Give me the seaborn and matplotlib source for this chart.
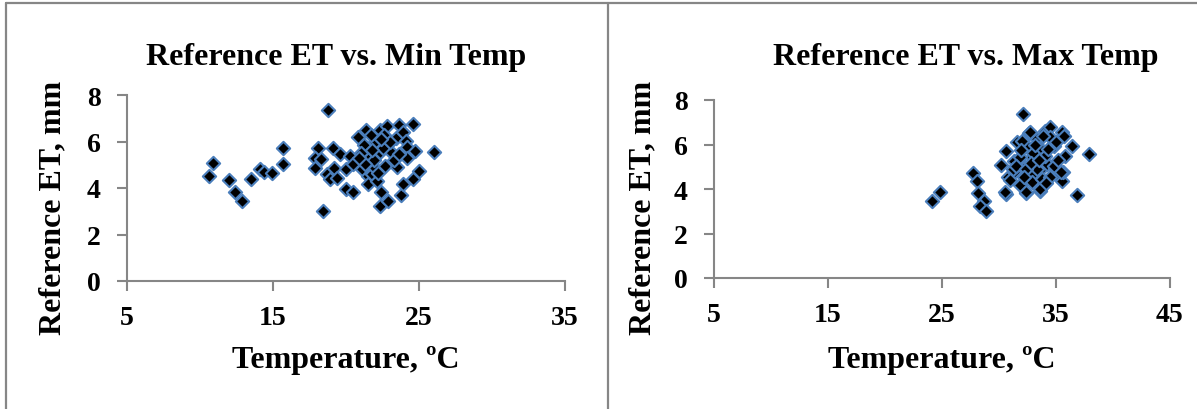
import matplotlib
matplotlib.use("Agg")
import matplotlib.pyplot as plt
from matplotlib.lines import Line2D
import seaborn as sns
import pandas as pd

# ---- data ----
tmin = [10.6, 10.9, 12.0, 12.4, 12.9, 13.5, 14.1, 14.4, 14.9, 15.7, 15.7,
        18.8, 18.4, 18.1, 17.9, 17.9, 18.3, 18.7, 18.9, 19.1, 19.2, 19.4, 19.6,
        20.0, 20.5, 20.3, 20.0, 20.5, 20.8, 21.1, 21.2, 21.4, 21.5, 21.5, 21.5,
        21.8, 22.0, 22.0, 22.1, 22.3, 22.3, 22.4, 22.3, 22.7, 22.8, 22.9, 22.9,
        23.1, 23.4, 23.5, 23.6, 23.8, 23.9, 23.9, 24.1, 24.2, 24.2, 24.6, 24.6,
        24.7, 25.0, 26.0, 21.7, 22.6, 21.0, 21.9, 22.5, 23.3, 21.3, 20.9, 22.2,
        23.0, 21.8, 23.6, 22.4]
et_min = [4.53, 5.07, 4.34, 3.84, 3.46, 4.39, 4.81, 4.67, 4.64, 5.70, 5.03,
          7.37, 3.02, 5.71, 5.27, 4.85, 5.25, 4.60, 4.39, 5.72, 4.85, 4.42, 5.46,
          3.96, 3.81, 5.39, 4.81, 5.03, 6.18, 4.82, 5.85, 6.51, 5.25, 4.53, 4.17,
          4.60, 5.99, 4.85, 4.31, 6.51, 5.53, 3.81, 3.24, 4.96, 6.65, 5.89, 3.45,
          5.53, 6.17, 4.89, 6.71, 3.70, 6.40, 4.17, 6.03, 5.75, 5.31, 6.75, 4.39,
          5.60, 4.74, 5.53, 6.30, 6.30, 5.50, 5.20, 5.70, 5.20, 5.05, 5.30, 4.65,
          6.00, 5.65, 5.45, 6.10]

tmax = [24.1, 24.8, 27.7, 28.1, 28.2, 28.7, 28.3, 28.9, 30.6, 30.2, 30.6,
        30.8, 31.3, 31.3, 31.6, 31.8, 32.1, 32.4, 32.6, 32.5, 32.9, 33.0, 32.9,
        33.3, 33.6, 33.6, 33.7, 33.8, 34.0, 34.2, 34.5, 34.5, 34.8, 34.9, 35.2,
        35.5, 35.5, 35.6, 35.8, 36.4, 36.8, 37.9, 32.0, 31.8, 31.2, 32.3, 33.3,
        34.8, 35.4, 34.0, 33.6, 32.4, 30.5, 32.7, 31.5, 32.4, 33.0, 34.3, 33.9,
        35.0, 32.8, 34.5, 31.0, 33.2, 35.2, 31.9, 34.1, 32.2, 33.5, 35.7]
et_max = [3.48, 3.86, 4.71, 4.38, 3.83, 3.48, 3.23, 2.99, 3.78, 5.08, 5.70,
          4.54, 4.78, 5.28, 6.10, 4.16, 7.37, 3.80, 6.52, 5.89, 5.42, 4.68, 4.31,
          6.25, 5.84, 3.89, 4.90, 4.45, 6.62, 5.13, 6.77, 6.34, 5.95, 4.93, 4.60,
          6.56, 4.37, 4.75, 5.50, 5.95, 3.71, 5.58, 6.17, 5.42, 4.90, 4.98, 4.90,
          5.05, 4.76, 5.50, 4.00, 3.86, 3.86, 6.56, 5.05, 4.90, 5.60, 5.80, 6.40,
          6.10, 5.15, 4.55, 4.40, 6.00, 5.30, 5.75, 4.25, 4.55, 5.30, 6.40]

titles = ["Reference ET vs. Min Temp", "Reference ET vs. Max Temp"]
xticks_min = [5, 15, 25, 35]
xticks_max = [5, 15, 25, 35, 45]
yticks = [0, 2, 4, 6, 8]
xlabel = "Temperature, \u00baC"
ylabel = "Reference ET, mm"

df_min = pd.DataFrame({"T": tmin, "ET": et_min})
df_max = pd.DataFrame({"T": tmax, "ET": et_max})

sns.set_theme(style="white")
plt.rcParams["font.family"] = ["Liberation Serif", "DejaVu Serif"]
plt.rcParams["font.weight"] = "bold"
plt.rcParams["text.color"] = "black"
plt.rcParams["axes.labelcolor"] = "black"

W, H = 1197, 410
fig = plt.figure(figsize=(W / 100, H / 100), dpi=100)

gray = "#868686"
edge = "#4A7EBB"


def px_axes(l, r, b, t):
    return fig.add_axes([l / W, (H - b) / H, (r - l) / W, (b - t) / H])


panels = [
    (px_axes(127, 565, 282, 96), df_min, xticks_min, titles[0], 336,
     (-0.137, 0.40), -0.345),
    (px_axes(714, 1170, 279, 101), df_max, xticks_max, titles[1], 966,
     (-0.125, 0.40), -0.375),
]

for ax, df, xt, title, tx, ylc, xly in panels:
    sns.scatterplot(data=df, x="T", y="ET", ax=ax, marker="D", s=46,
                    color="black", edgecolor=edge, linewidth=1.5, zorder=3)
    ax.set_xlim(xt[0], xt[-1])
    ax.set_ylim(0, 8)
    ax.set_xticks(xt)
    ax.set_yticks(yticks)
    for s in ["top", "right"]:
        ax.spines[s].set_visible(False)
    for s in ["left", "bottom"]:
        ax.spines[s].set_color(gray)
        ax.spines[s].set_linewidth(1.5)
    ax.tick_params(axis="both", direction="out", length=7, width=1.5,
                   color=gray, labelsize=20, labelcolor="black")
    ax.tick_params(axis="x", pad=10)
    ax.tick_params(axis="y", pad=12)
    ax.tick_params(left=True, bottom=True)
    for lab in ax.get_xticklabels() + ax.get_yticklabels():
        lab.set_fontweight("bold")
    ax.set_xlabel(xlabel, fontsize=23, fontweight="bold")
    ax.set_ylabel(ylabel, fontsize=23, fontweight="bold")
    ax.yaxis.set_label_coords(*ylc)
    ax.xaxis.set_label_coords(0.5, xly)
    ax.set_facecolor("white")
    ax.grid(False)
    fig.text(tx / W, (H - 65) / H, title, ha="center", va="baseline",
             fontsize=23, fontweight="bold")

# chart-area borders
fig.add_artist(Line2D([6 / W, 1.0], [(H - 4) / H, (H - 4) / H], color=gray, lw=1.6,
                      transform=fig.transFigure))
fig.add_artist(Line2D([6 / W, 6 / W], [0, (H - 4) / H], color=gray, lw=1.6,
                      transform=fig.transFigure))
fig.add_artist(Line2D([608 / W, 608 / W], [0, (H - 4) / H], color=gray, lw=1.6,
                      transform=fig.transFigure))

fig.savefig("out.png", dpi=100, facecolor="white")
